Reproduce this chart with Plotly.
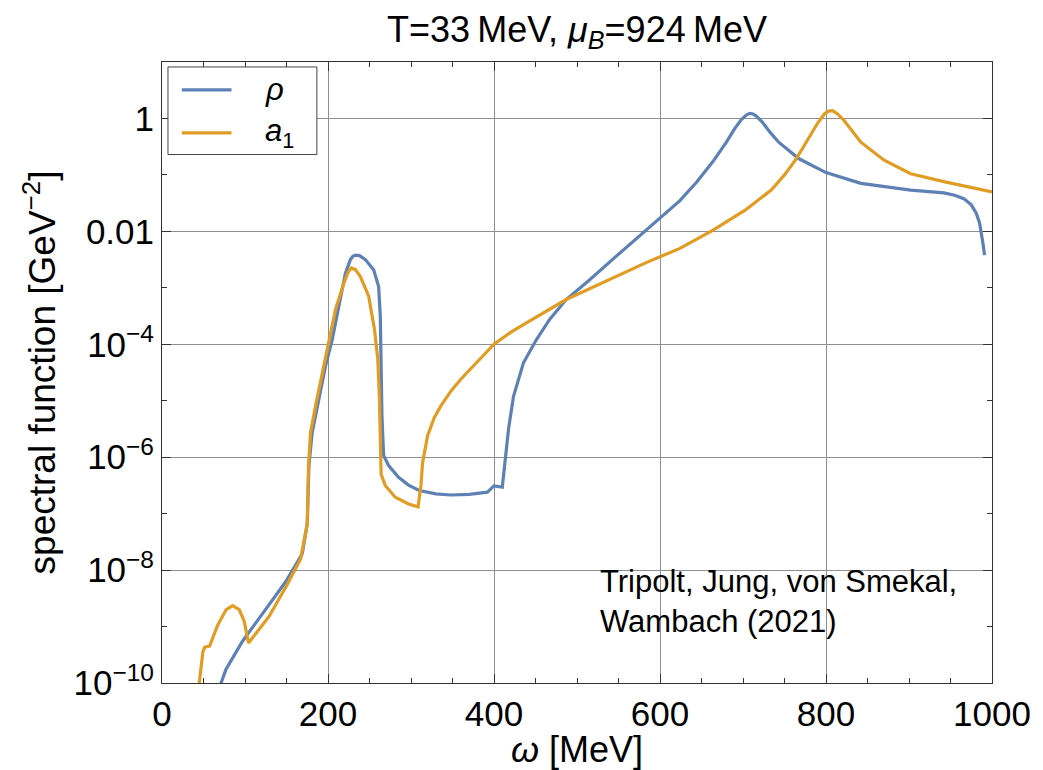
import plotly.graph_objects as go

# ---------------- data ----------------
rho_omega = [70, 77, 97, 117, 149, 169, 175, 177, 181, 189, 197, 205, 213, 221, 227, 230,
             233, 238, 245, 250, 255, 261, 263, 264, 265, 267, 273, 285, 297, 310, 330,
             348, 370, 392, 396, 400, 410, 413.5, 417.5, 423.5, 435.5, 451, 467, 487, 515,
             547, 583, 604, 624, 644, 664, 680, 690, 698, 704, 708, 712, 716, 723, 733,
             743, 767, 800, 842, 902, 942, 955, 966, 975, 981, 985, 989, 991]
rho_val = [8.9e-11, 1.74e-10, 5.5e-10, 1.41e-9, 6.2e-9, 1.95e-8, 6.6e-8, 7.1e-7, 2.75e-6,
           1.07e-5, 4.1e-5, 1.2e-4, 4.7e-4, 1.82e-3, 3.16e-3, 3.63e-3,
           3.8e-3, 3.72e-3, 3.16e-3, 2.63e-3, 2.09e-3, 1.05e-3, 3.16e-4, 4.1e-5, 5.4e-6,
           1.07e-6, 7.1e-7, 4.4e-7, 3.2e-7, 2.57e-7, 2.24e-7,
           2.14e-7, 2.19e-7, 2.4e-7, 2.75e-7, 3.1e-7, 2.95e-7, 8.1e-7, 3.16e-6, 1.2e-5,
           4.7e-5, 1.2e-4, 2.75e-4, 6.2e-4, 1.38e-3,
           3.6e-3, 1.05e-2, 1.95e-2, 3.5e-2, 7.4e-2, 0.174, 0.38, 0.66, 0.955, 1.15, 1.23,
           1.2, 1.1, 0.87, 0.56,
           0.38, 0.195, 0.11, 0.0708, 0.0537, 0.0479, 0.0437, 0.038, 0.0295, 0.0209,
           0.0141, 0.0063, 0.0038]

a1_omega = [44.5, 49.3, 51.5, 57.3, 67.2, 77.3, 85.1, 93.1, 99.1, 104.2, 129, 151, 167,
            175, 176.5, 179, 185, 197, 209, 219, 224, 228, 233, 239, 249, 256, 260, 262,
            263, 264, 269, 281, 297, 308.5, 312, 314, 320, 328, 336, 348, 360, 380, 400,
            420, 439, 487, 547, 584, 624, 664, 703, 734, 750, 763, 772, 782, 790, 798, 803,
            808, 814, 822, 832, 842, 870, 902, 942, 1000]
a1_val = [8.9e-11, 3.6e-10, 4.3e-10, 4.5e-10, 1.07e-9, 2.0e-9, 2.34e-9, 2.0e-9, 1.23e-9,
          5.1e-10, 1.51e-9, 5.6e-9, 1.58e-8,
          6.6e-8, 7.1e-7, 2.75e-6, 8.1e-6, 5.4e-5, 4.1e-4, 1.2e-3, 1.86e-3, 2.24e-3,
          2.1e-3, 1.58e-3, 7.1e-4, 1.82e-4, 5.4e-5, 1.07e-5,
          2.75e-6, 5.0e-7, 3.16e-7, 1.95e-7, 1.48e-7, 1.32e-7, 3.16e-7, 8.1e-7, 2.4e-6,
          5.0e-6, 8.1e-6, 1.48e-5, 2.4e-5, 5.0e-5, 1.0e-4,
          1.62e-4, 2.4e-4, 6.2e-4, 1.58e-3, 2.82e-3, 5.0e-3, 1.05e-2, 2.4e-2, 5.4e-2, 0.1,
          0.182, 0.3, 0.537, 0.83, 1.2, 1.35,
          1.38, 1.2, 0.912, 0.6, 0.38, 0.182, 0.105, 0.0759, 0.05]

x_tickvals = [0, 200, 400, 600, 800, 1000]
x_ticktext = ["0", "200", "400", "600", "800", "1000"]
y_tickvals = [1e-10, 1e-8, 1e-6, 1e-4, 1e-2, 1]
y_ticktext = ["10<sup>\u221210</sup>", "10<sup>\u22128</sup>", "10<sup>\u22126</sup>",
              "10<sup>\u22124</sup>", "0.01", "1"]
y_minor_vals = [1e-9, 1e-7, 1e-5, 1e-3, 1e-1]

series_names = ["<i>\u03c1</i>", "<i>a</i><sub>1</sub>"]
colors = ["#5E81B5", "#E19C24"]

title_text = "T=33\u2009MeV, <i>\u03bc</i><sub><i>B</i></sub>=924\u2009MeV"
credit_text = "Tripolt, Jung, von Smekal,<br>Wambach (2021)"

FONT = "Liberation Sans"

fig = go.Figure()
fig.add_trace(go.Scatter(x=rho_omega, y=rho_val, mode="lines",
                         line=dict(color=colors[0], width=3.2), name=series_names[0],
                         showlegend=False))
fig.add_trace(go.Scatter(x=a1_omega, y=a1_val, mode="lines",
                         line=dict(color=colors[1], width=3.2), name=series_names[1],
                         showlegend=False))

axis_common = dict(showline=True, linecolor="#333333", linewidth=1, mirror="allticks",
                   ticks="inside", ticklen=9, tickcolor="#333333", tickwidth=1,
                   showgrid=True, gridcolor="#8f8f8f", gridwidth=1, zeroline=False,
                   tickfont=dict(family=FONT, size=35, color="black"))

fig.update_xaxes(range=[0, 1000], tickmode="array", tickvals=x_tickvals,
                 ticktext=x_ticktext,
                 minor=dict(dtick=50, tick0=0, ticks="inside", ticklen=5,
                            tickcolor="#333333", showgrid=False),
                 title=dict(text="<i>\u03c9</i> [MeV]", font=dict(family=FONT, size=36,
                                                                  color="black"),
                            standoff=0),
                 **axis_common)
fig.update_yaxes(type="log", range=[-10, 1], tickmode="array", tickvals=y_tickvals,
                 ticktext=y_ticktext,
                 minor=dict(tickmode="array", tickvals=y_minor_vals, ticks="inside",
                            ticklen=5, tickcolor="#333333", showgrid=False),
                 title=dict(text="spectral function [GeV<sup>\u22122</sup>]",
                            font=dict(family=FONT, size=37, color="black"), standoff=6),
                 **axis_common)

# manual legend box
shapes = [dict(type="rect", xref="paper", yref="paper", x0=0.0072, x1=0.1866,
               y0=0.851, y1=0.992, line=dict(color="#444444", width=1),
               fillcolor="white", layer="above")]
leg_y = [0.955, 0.886]
for c, ly in zip(colors, leg_y):
    shapes.append(dict(type="line", xref="paper", yref="paper", x0=0.0239, x1=0.0837,
                       y0=ly, y1=ly, line=dict(color=c, width=3.2), layer="above"))
annotations = []
for name, ly in zip(series_names, leg_y):
    annotations.append(dict(xref="paper", yref="paper", x=0.122, y=ly, text=name,
                            showarrow=False, xanchor="left", yanchor="middle",
                            font=dict(family=FONT, size=31, color="black")))
annotations.append(dict(xref="paper", yref="paper", x=0.525, y=0.195, text=credit_text,
                        showarrow=False, xanchor="left", yanchor="top", align="left",
                        font=dict(family=FONT, size=31, color="black")))

fig.update_layout(
    width=1043, height=770,
    margin=dict(l=162, r=45, t=62, b=84),
    paper_bgcolor="white", plot_bgcolor="white",
    title=dict(text=title_text, xref="paper", x=0.5, xanchor="center", y=0.962,
               yanchor="middle", font=dict(family=FONT, size=36, color="black")),
    shapes=shapes, annotations=annotations,
    showlegend=False,
)

fig.write_html("out.html")
